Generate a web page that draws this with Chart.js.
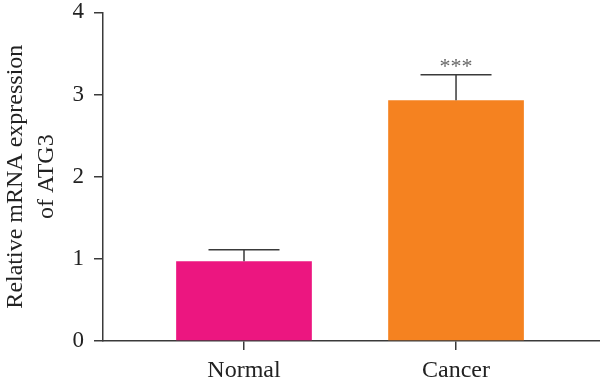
<!DOCTYPE html>
<html>
<head>
<meta charset="utf-8">
<script src="https://cdn.jsdelivr.net/npm/chart.js@4"></script>
<style>
  html, body { margin: 0; padding: 0; background: #fff; }
  #wrap { width: 600px; height: 388px; }
</style>
</head>
<body>
<div id="wrap"><canvas id="atgChart" width="600" height="388"></canvas></div>
<script>
const categories = ['Normal', 'Cancer'];
const expression = [0.97, 2.93];
const errorTop = [1.11, 3.24];
const significance = ['', '***'];
const yTicks = [0, 1, 2, 3, 4];
const barColors = ['#EC1680', '#F58220'];

const axisColor = '#3a3a3a';
const serif = "'Liberation Serif', 'DejaVu Serif', serif";

// upward error bars plus significance stars
const errorBars = {
  id: 'errorBars',
  afterDatasetsDraw(chart) {
    const ctx = chart.ctx;
    const yScale = chart.scales.y;
    const meta = chart.getDatasetMeta(0);
    ctx.save();
    ctx.strokeStyle = axisColor;
    ctx.lineWidth = 1.5;
    meta.data.forEach((bar, i) => {
      const top = yScale.getPixelForValue(errorTop[i]);
      const half = 35.5;
      ctx.beginPath();
      ctx.moveTo(bar.x, bar.y);
      ctx.lineTo(bar.x, top);
      ctx.moveTo(bar.x - half, top);
      ctx.lineTo(bar.x + half, top);
      ctx.stroke();
      if (significance[i]) {
        ctx.fillStyle = '#666';
        ctx.font = "22px " + serif;
        ctx.textAlign = 'center';
        ctx.textBaseline = 'alphabetic';
        ctx.fillText(significance[i], bar.x, top - 2);
      }
    });
    ctx.restore();
  }
};

new Chart(document.getElementById('atgChart').getContext('2d'), {
  type: 'bar',
  data: {
    datasets: [{
      data: categories.map((c, i) => ({ x: i, y: expression[i] })),
      backgroundColor: barColors,
      borderWidth: 0,
      categoryPercentage: 0.8,
      barPercentage: 0.8
    }]
  },
  options: {
    responsive: false,
    animation: false,
    layout: { padding: { top: 12, right: 0, left: 0, bottom: 0 } },
    plugins: { legend: { display: false }, tooltip: { enabled: false } },
    scales: {
      x: {
        type: 'linear',
        offset: false,
        min: -0.665,
        max: 1.679,
        afterBuildTicks: (scale) => { scale.ticks = categories.map((c, i) => ({ value: i })); },
        afterFit: (scale) => { scale.height = 47; },
        ticks: {
          callback: (v) => categories[v],
          color: '#222',
          font: { family: serif, size: 24, lineHeight: 1.1 },
          padding: 8,
          maxRotation: 0
        },
        grid: { offset: false, drawOnChartArea: false, color: axisColor, lineWidth: 1.5, tickLength: 9 },
        border: { color: axisColor, width: 1.5 }
      },
      y: {
        min: 0,
        max: 4,
        afterBuildTicks: (scale) => { scale.ticks = yTicks.map(v => ({ value: v })); },
        afterFit: (scale) => { scale.width = 103; },
        ticks: {
          color: '#222',
          font: { family: serif, size: 23, lineHeight: 0.2 },
          padding: 10
        },
        grid: { drawOnChartArea: false, color: axisColor, lineWidth: 1.5, tickLength: 9 },
        border: { color: axisColor, width: 1.5 },
        title: {
          display: true,
          text: ['Relative mRNA expression', 'of ATG3'],
          color: '#222',
          font: { family: serif, size: 24, lineHeight: 1.3 },
          padding: { top: 0, bottom: 0 }
        }
      }
    }
  },
  plugins: [errorBars]
});
</script>
</body>
</html>
